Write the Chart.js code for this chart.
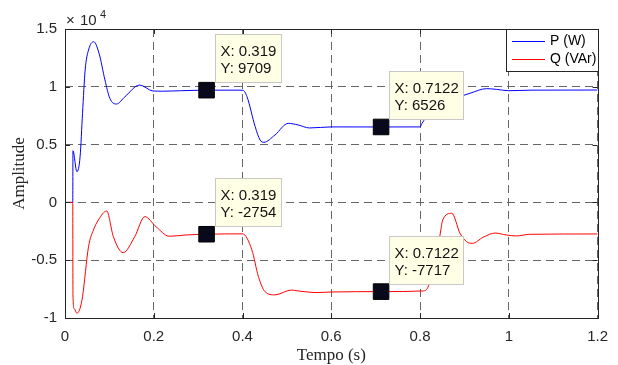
<!DOCTYPE html>
<html>
<head>
<meta charset="utf-8">
<script src="https://cdn.jsdelivr.net/npm/chart.js@4/dist/chart.umd.min.js"></script>
<style>
html,body{margin:0;padding:0;background:#fff;}
#wrap{width:618px;height:365px;}
</style>
</head>
<body>
<div id="wrap"><canvas id="chart" width="618" height="365"></canvas></div>
<script>
// ---- data ----
const tP = [0, 0.0175, 0.0179, 0.0268, 0.034, 0.0395, 0.0454, 0.053, 0.0648, 0.0767, 0.090, 0.101, 0.116, 0.135, 0.168, 0.198, 0.219, 0.26, 0.30, 0.319, 0.39, 0.401, 0.41, 0.4285, 0.4395, 0.448, 0.473, 0.503, 0.525, 0.551, 0.6, 0.7122, 0.80, 0.8045, 0.812, 0.83, 0.86, 0.8955, 0.9125, 0.95, 0.972, 1.0, 1.05, 1.2];
const pVals = [0, 0, 4470, 2660, 3950, 7710, 11450, 13180, 13900, 12900, 10590, 9000, 8510, 9140, 10150, 9640, 9620, 9660, 9700, 9709, 9710, 9700, 9150, 6550, 5400, 5200, 5830, 6840, 6700, 6440, 6530, 6526, 6530, 6840, 7270, 8000, 8700, 9230, 9440, 9840, 9780, 9660, 9710, 9720];

const tQ = [0, 0.0175, 0.0179, 0.021, 0.0268, 0.031, 0.034, 0.0395, 0.053, 0.064, 0.0753, 0.0939, 0.109, 0.131, 0.157, 0.180, 0.205, 0.235, 0.272, 0.319, 0.40, 0.421, 0.4358, 0.4507, 0.473, 0.51, 0.525, 0.57, 0.6, 0.7122, 0.808, 0.819, 0.83, 0.845, 0.851, 0.8715, 0.890, 0.905, 0.918, 0.942, 0.970, 0.994, 1.017, 1.047, 1.2];
const qVals = [0, 0, -8000, -9200, -9590, -9450, -9160, -8160, -3830, -2390, -1520, -740, -2970, -4350, -2970, -1230, -2100, -2930, -2820, -2754, -2720, -4100, -6420, -7720, -8000, -7580, -7660, -7800, -7750, -7717, -7660, -7230, -5500, -2820, -1520, -940, -2670, -3400, -3540, -3020, -2650, -2820, -2900, -2760, -2730];

const seriesNames = ['P (W)', 'Q (VAr)'];
const seriesColors = ['#0000ff', '#ff0000'];

// data tips
const tipX = [0.319, 0.7122];
const tipP = [9709, 6526];
const tipQ = [-2754, -7717];
const tipXLabels = ['0.319', '0.7122'];

const xTickValues = [0, 0.2, 0.4, 0.6, 0.8, 1, 1.2];
const yTickValues = [-10000, -5000, 0, 5000, 10000, 15000];

const SANS = '"Liberation Sans", Arial, sans-serif';
const SERIF = '"Liberation Serif", "Times New Roman", serif';

function pts(xs, ys){ return xs.map((x,i)=>({x:x, y:ys[i]})); }

// ---- frame, legend, data tips ----
const decor = {
  id:'decor',
  afterDraw(chart){
    const ctx = chart.ctx, a = chart.chartArea;
    const xs = chart.scales.x, ys = chart.scales.y;
    ctx.save();
    // box
    ctx.strokeStyle = '#262626';
    ctx.lineWidth = 1;
    ctx.setLineDash([]);
    ctx.strokeRect(Math.round(a.left)+0.5, Math.round(a.top)+0.5, Math.round(a.right-a.left), Math.round(a.bottom-a.top));
    // inward ticks
    ctx.beginPath();
    xTickValues.forEach(v=>{
      const px = Math.round(xs.getPixelForValue(v))+0.5;
      ctx.moveTo(px, a.bottom); ctx.lineTo(px, a.bottom-5);
      ctx.moveTo(px, a.top); ctx.lineTo(px, a.top+5);
    });
    yTickValues.forEach(v=>{
      const py = Math.round(ys.getPixelForValue(v))+0.5;
      ctx.moveTo(a.left, py); ctx.lineTo(a.left+5, py);
      ctx.moveTo(a.right, py); ctx.lineTo(a.right-5, py);
    });
    ctx.stroke();

    // x10^4
    ctx.fillStyle = '#262626';
    ctx.textBaseline = 'middle';
    ctx.textAlign = 'left';
    ctx.font = '15px ' + SANS;
    ctx.fillText('\u00d7', 66, 21);
    ctx.fillText('10', 80, 21);
    ctx.font = '11px ' + SANS;
    ctx.fillText('4', 100, 15);

    // legend
    const lx = 506.5, ly = Math.round(a.top)+0.5, lw = Math.round(a.right)-506, lh = 42;
    ctx.fillStyle = '#fff';
    ctx.fillRect(lx, ly, lw, lh);
    ctx.strokeStyle = '#262626';
    ctx.strokeRect(lx, ly, lw, lh);
    ctx.font = '14px ' + SANS;
    seriesNames.forEach((n,i)=>{
      const yy = ly + 11 + i*18;
      ctx.strokeStyle = seriesColors[i];
      ctx.beginPath(); ctx.moveTo(512, Math.round(yy)+0.5); ctx.lineTo(545, Math.round(yy)+0.5); ctx.stroke();
      ctx.fillStyle = '#000';
      ctx.fillText(n, 550, yy+1);
    });

    // data tips
    const tip = (x, y, l1, l2)=>{
      const px = xs.getPixelForValue(x), py = ys.getPixelForValue(y);
      ctx.font = '15px ' + SANS;
      const w = Math.round(Math.max(ctx.measureText(l1).width, ctx.measureText(l2).width) + 10);
      const h = 48;
      const x0 = Math.round(px+8)+0.5, y0 = Math.round(py-8-h)+0.5;
      ctx.fillStyle = '#ffffe6';
      ctx.fillRect(x0, y0, w, h);
      ctx.strokeStyle = '#c8c8c8';
      ctx.strokeRect(x0, y0, w, h);
      ctx.fillStyle = '#111';
      ctx.fillText(l1, x0+5, y0+17);
      ctx.fillText(l2, x0+5, y0+34);
    };
    tipX.forEach((x,i)=>{
      tip(x, tipP[i], 'X: '+tipXLabels[i], 'Y: '+tipP[i]);
      tip(x, tipQ[i], 'X: '+tipXLabels[i], 'Y: '+tipQ[i]);
    });
    ctx.restore();
  }
};

const ctx = document.getElementById('chart').getContext('2d');
const chart = new Chart(ctx, {
  type:'line',
  data:{
    datasets:[
      { label:seriesNames[0], data:pts(tP,pVals), borderColor:seriesColors[0], borderWidth:1, pointRadius:0, cubicInterpolationMode:'monotone', order:2 },
      { label:seriesNames[1], data:pts(tQ,qVals), borderColor:seriesColors[1], borderWidth:1, pointRadius:0, cubicInterpolationMode:'monotone', order:1 },
      { label:'tips', data:pts(tipX.concat(tipX), tipP.concat(tipQ)), showLine:false, pointStyle:'rect', pointRadius:11, pointBackgroundColor:'#080a1c', pointBorderColor:'#000', pointBorderWidth:1, order:0 }
    ]
  },
  options:{
    responsive:false,
    animation:false,
    devicePixelRatio:1,
    layout:{ padding:{ top:29, right:16, left:0, bottom:0 } },
    plugins:{ legend:{display:false}, tooltip:{enabled:false} },
    scales:{
      x:{
        type:'linear', min:0, max:1.2,
        afterBuildTicks: s=>{ s.ticks = xTickValues.map(v=>({value:v})); },
        afterFit: s=>{ s.height = 47; },
        grid:{ color:'#666666', lineWidth:1, drawTicks:false },
        border:{ display:false, dash:[8,5] },
        ticks:{ padding:10, color:'#262626', font:{family:SANS, size:15}, maxRotation:0, autoSkip:false,
          callback: v => String(Number(v.toFixed(2))) },
        title:{ display:true, text:'Tempo (s)', color:'#262626', font:{family:SERIF, size:17}, padding:{top:0,bottom:-1} }
      },
      y:{
        type:'linear', min:-10000, max:15000,
        afterBuildTicks: s=>{ s.ticks = yTickValues.map(v=>({value:v})); },
        afterFit: s=>{ s.width = 65; },
        grid:{ color:'#666666', lineWidth:1, drawTicks:false },
        border:{ display:false, dash:[8,5] },
        ticks:{ padding:8, color:'#262626', font:{family:SANS, size:15}, autoSkip:false,
          callback: v => String(v/10000) },
        title:{ display:true, text:'Amplitude', color:'#262626', font:{family:SERIF, size:17}, padding:{top:9,bottom:0} }
      }
    }
  },
  plugins:[decor]
});
</script>
</body>
</html>
